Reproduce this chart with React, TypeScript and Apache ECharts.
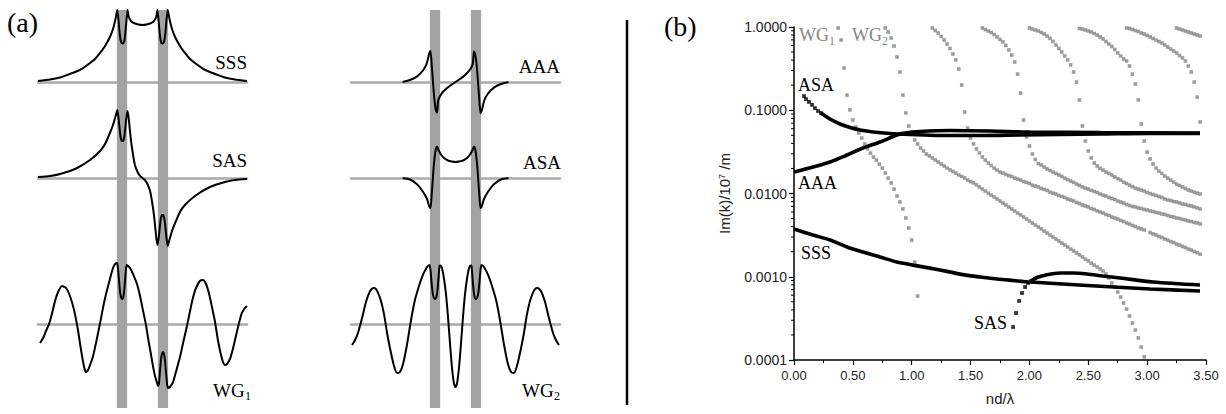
import React, { useEffect, useRef } from 'react';
import * as echarts from 'echarts';

type Pt = [number, number];

const SERIF = '"Liberation Serif", "Times New Roman", Times, serif';
const SANS = '"Liberation Sans", Arial, Helvetica, sans-serif';
const GREY_DOT = '#858585';
const GREY_LAYER = '#a3a3a3';
const GREY_AXIS = '#aaaaaa';

// ---------- (b) Im(k) against nd/λ ----------
const ndRange: Pt = [0, 3.5];
const imkRange: Pt = [0.0001, 1];
const imkMinorTicks = [
  0.0002, 0.0003, 0.0004, 0.0005, 0.0006, 0.0007, 0.0008, 0.0009,
  0.002, 0.003, 0.004, 0.005, 0.006, 0.007, 0.008, 0.009,
  0.02, 0.03, 0.04, 0.05, 0.06, 0.07, 0.08, 0.09,
  0.2, 0.3, 0.4, 0.5, 0.6, 0.7, 0.8, 0.9,
];

// waveguide (WG) branches, grey dots
const wgBranch1: Pt[] = [
  [0.375, 0.973], [0.4, 0.698], [0.425, 0.322], [0.45, 0.152], [0.475, 0.101], [0.5, 0.0764], [0.525, 0.0629],
  [0.55, 0.0533], [0.575, 0.0464], [0.6, 0.0393], [0.625, 0.0343], [0.65, 0.0306], [0.675, 0.0274], [0.7, 0.0252],
  [0.725, 0.0226], [0.75, 0.0202], [0.775, 0.0176], [0.8, 0.0153], [0.825, 0.0134], [0.85, 0.0113], [0.875, 0.00933],
  [0.9, 0.00791], [0.925, 0.00652], [0.95, 0.00508], [0.975, 0.00385], [1.0, 0.00276], [1.025, 0.0015], [1.05, 0.000587],
];
const wgBranch2: Pt[] = [
  [0.775, 0.973], [0.8, 0.871], [0.825, 0.738], [0.85, 0.591], [0.875, 0.436], [0.9, 0.288], [0.925, 0.152],
  [0.95, 0.0927], [0.975, 0.0647], [1.0, 0.0518], [1.025, 0.0439], [1.05, 0.0393], [1.075, 0.0352], [1.1, 0.0324],
  [1.125, 0.0298], [1.15, 0.0282], [1.175, 0.0267], [1.2, 0.0253], [1.225, 0.0239], [1.25, 0.0226], [1.275, 0.0214],
  [1.3, 0.0202], [1.325, 0.0192], [1.35, 0.0184], [1.375, 0.0176], [1.4, 0.0167], [1.425, 0.016], [1.45, 0.0154],
  [1.475, 0.0145], [1.5, 0.0139], [1.525, 0.0134], [1.55, 0.0127], [1.575, 0.012], [1.6, 0.0113], [1.625, 0.0107],
  [1.65, 0.0101], [1.675, 0.00959], [1.7, 0.00908], [1.725, 0.00859], [1.75, 0.00813], [1.775, 0.00769], [1.8, 0.00728],
  [1.825, 0.00689], [1.85, 0.00652], [1.875, 0.00616], [1.9, 0.00583], [1.925, 0.00552], [1.95, 0.00522], [1.975, 0.00494],
  [2.0, 0.00467], [2.025, 0.00442], [2.05, 0.00418], [2.075, 0.00396], [2.1, 0.00375], [2.125, 0.00354], [2.15, 0.00335],
  [2.175, 0.00317], [2.2, 0.003], [2.225, 0.00284], [2.25, 0.00269], [2.275, 0.00254], [2.3, 0.00241], [2.325, 0.00228],
  [2.35, 0.00215], [2.375, 0.00204], [2.4, 0.00193], [2.425, 0.00183], [2.45, 0.00173], [2.475, 0.00163], [2.5, 0.00155],
  [2.525, 0.00146], [2.55, 0.00138], [2.575, 0.00131], [2.6, 0.00124], [2.625, 0.00117], [2.65, 0.00108], [2.675, 0.000966],
  [2.7, 0.000841], [2.725, 0.000753], [2.75, 0.000656], [2.775, 0.000571], [2.8, 0.000484], [2.825, 0.00041], [2.85, 0.000338],
  [2.875, 0.000278], [2.9, 0.000229], [2.925, 0.000184], [2.95, 0.000143], [2.975, 0.000109],
];
const wgBranch3: Pt[] = [
  [1.175, 0.973], [1.2, 0.908], [1.225, 0.847], [1.25, 0.769], [1.275, 0.698], [1.3, 0.625], [1.325, 0.552],
  [1.35, 0.474], [1.375, 0.402], [1.4, 0.313], [1.425, 0.201], [1.45, 0.0953], [1.475, 0.0612], [1.5, 0.0464],
  [1.525, 0.0394], [1.55, 0.0343], [1.575, 0.0307], [1.6, 0.0275], [1.625, 0.0252], [1.65, 0.0232], [1.675, 0.0217],
  [1.7, 0.0202], [1.725, 0.0191], [1.75, 0.0181], [1.775, 0.0176], [1.8, 0.0169], [1.825, 0.0164], [1.85, 0.016],
  [1.875, 0.0153], [1.9, 0.0149], [1.925, 0.0145], [1.95, 0.0139], [1.975, 0.0136], [2.0, 0.0132], [2.025, 0.0126],
  [2.05, 0.0123], [2.075, 0.012], [2.1, 0.0115], [2.125, 0.0112], [2.15, 0.0109], [2.175, 0.0104], [2.2, 0.0101],
  [2.225, 0.00986], [2.25, 0.00946], [2.275, 0.0092], [2.3, 0.00895], [2.325, 0.00859], [2.35, 0.00836], [2.375, 0.00813],
  [2.4, 0.0078], [2.425, 0.00759], [2.45, 0.00728], [2.475, 0.00708], [2.5, 0.00689], [2.525, 0.00661], [2.55, 0.00643],
  [2.575, 0.00617], [2.6, 0.006], [2.625, 0.00583], [2.65, 0.0056], [2.675, 0.00544], [2.7, 0.00522], [2.725, 0.00508],
  [2.75, 0.00494], [2.775, 0.00474], [2.8, 0.00461], [2.825, 0.00443], [2.85, 0.00431], [2.875, 0.00413], [2.9, 0.00402],
  [2.925, 0.00385], [2.95, 0.00375], [2.975, 0.00365], [3.025, 0.0034], [3.05, 0.00327], [3.075, 0.00318], [3.1, 0.00305],
  [3.125, 0.00296], [3.15, 0.00284], [3.175, 0.00276], [3.2, 0.00265], [3.225, 0.00258], [3.25, 0.00247], [3.275, 0.0024],
  [3.3, 0.00231], [3.325, 0.00224], [3.35, 0.00215], [3.375, 0.00209], [3.4, 0.00201], [3.425, 0.00195], [3.45, 0.00187],
];
const wgBranch4: Pt[] = [
  [1.6, 0.973], [1.625, 0.933], [1.65, 0.895], [1.675, 0.859], [1.7, 0.813], [1.725, 0.759], [1.75, 0.708],
  [1.775, 0.661], [1.8, 0.6], [1.825, 0.53], [1.85, 0.461], [1.875, 0.38], [1.9, 0.272], [1.925, 0.161],
  [1.95, 0.0764], [1.975, 0.0477], [2.0, 0.0372], [2.025, 0.0298], [2.05, 0.0256], [2.075, 0.0229], [2.1, 0.022],
  [2.125, 0.0208], [2.15, 0.0197], [2.175, 0.0189], [2.2, 0.0181], [2.225, 0.0174], [2.25, 0.0167], [2.275, 0.016],
  [2.3, 0.0153], [2.325, 0.0147], [2.35, 0.0141], [2.375, 0.0136], [2.4, 0.013], [2.425, 0.0125], [2.45, 0.012],
  [2.475, 0.0116], [2.5, 0.0113], [2.525, 0.0109], [2.55, 0.0106], [2.575, 0.0103], [2.6, 0.00986], [2.625, 0.00959],
  [2.65, 0.00933], [2.675, 0.00895], [2.7, 0.00871], [2.725, 0.00847], [2.75, 0.00813], [2.775, 0.00791], [2.8, 0.00769],
  [2.825, 0.00738], [2.85, 0.00718], [2.875, 0.00698], [2.9, 0.00689], [2.925, 0.0067], [2.95, 0.00661], [2.975, 0.00643],
  [3.0, 0.00634], [3.025, 0.00617], [3.05, 0.00608], [3.075, 0.00592], [3.1, 0.00583], [3.125, 0.00568], [3.15, 0.0056],
  [3.175, 0.00544], [3.2, 0.0053], [3.225, 0.00522], [3.25, 0.00508], [3.275, 0.00501], [3.3, 0.00488], [3.325, 0.00481],
  [3.35, 0.00468], [3.375, 0.00461], [3.4, 0.00449], [3.425, 0.00443], [3.45, 0.00431],
];
const wgBranch5: Pt[] = [
  [2.0, 0.973], [2.025, 0.946], [2.05, 0.92], [2.075, 0.895], [2.1, 0.859], [2.125, 0.824], [2.15, 0.78],
  [2.175, 0.728], [2.2, 0.67], [2.225, 0.608], [2.25, 0.552], [2.275, 0.501], [2.3, 0.449], [2.325, 0.402],
  [2.35, 0.35], [2.375, 0.288], [2.4, 0.218], [2.425, 0.133], [2.45, 0.0647], [2.475, 0.0427], [2.5, 0.0324],
  [2.525, 0.0267], [2.55, 0.0232], [2.575, 0.0214], [2.6, 0.02], [2.625, 0.0191], [2.65, 0.0181], [2.675, 0.0174],
  [2.7, 0.0167], [2.725, 0.0158], [2.75, 0.0151], [2.775, 0.0145], [2.8, 0.0137], [2.825, 0.0132], [2.85, 0.0126],
  [2.875, 0.0121], [2.9, 0.0116], [2.925, 0.0113], [2.95, 0.011], [2.975, 0.0107], [3.0, 0.0103], [3.025, 0.01],
  [3.05, 0.00973], [3.075, 0.00946], [3.1, 0.0092], [3.125, 0.00895], [3.15, 0.00859], [3.175, 0.00836], [3.2, 0.00824],
  [3.225, 0.00802], [3.25, 0.00791], [3.275, 0.00769], [3.3, 0.00748], [3.325, 0.00738], [3.35, 0.00718], [3.375, 0.00708],
  [3.4, 0.00689], [3.425, 0.0067], [3.45, 0.00652],
];
const wgBranch6: Pt[] = [
  [2.425, 0.959], [2.45, 0.946], [2.475, 0.92], [2.5, 0.895], [2.525, 0.871], [2.55, 0.836], [2.575, 0.801],
  [2.6, 0.759], [2.625, 0.718], [2.65, 0.67], [2.675, 0.625], [2.7, 0.583], [2.725, 0.537], [2.75, 0.488],
  [2.775, 0.449], [2.8, 0.413], [2.825, 0.391], [2.85, 0.34], [2.875, 0.272], [2.9, 0.207], [2.925, 0.133],
  [2.95, 0.0684], [2.975, 0.0427], [3.0, 0.0315], [3.025, 0.026], [3.05, 0.0226], [3.075, 0.0202], [3.1, 0.0186],
  [3.125, 0.0174], [3.15, 0.0162], [3.175, 0.0153], [3.2, 0.0145], [3.225, 0.0137], [3.25, 0.013], [3.275, 0.0125],
  [3.3, 0.012], [3.325, 0.0115], [3.35, 0.011], [3.375, 0.0107], [3.4, 0.0104], [3.425, 0.0101], [3.45, 0.00986],
];
const wgBranch7: Pt[] = [
  [2.825, 0.973], [2.85, 0.959], [2.875, 0.933], [2.9, 0.908], [2.925, 0.883], [2.95, 0.847], [2.975, 0.824],
  [3.0, 0.791], [3.025, 0.759], [3.05, 0.728], [3.075, 0.698], [3.1, 0.67], [3.125, 0.643], [3.15, 0.608],
  [3.175, 0.575], [3.2, 0.544], [3.225, 0.515], [3.25, 0.488], [3.275, 0.455], [3.3, 0.425], [3.325, 0.391],
  [3.35, 0.34], [3.375, 0.288], [3.4, 0.218], [3.425, 0.144], [3.45, 0.0723],
];
const wgBranch8: Pt[] = [
  [3.25, 0.973], [3.275, 0.946], [3.3, 0.92], [3.325, 0.895], [3.35, 0.871], [3.375, 0.847], [3.4, 0.824],
  [3.425, 0.801], [3.45, 0.78],
];
const wgBranches = [wgBranch1, wgBranch2, wgBranch3, wgBranch4, wgBranch5, wgBranch6, wgBranch7, wgBranch8];

// coupled modes, black
const asaStart: Pt[] = [
  [0.085, 0.148], [0.102, 0.136], [0.127, 0.126], [0.153, 0.116], [0.178, 0.106], [0.204, 0.098], [0.229, 0.0927],
];
const asaCurve: Pt[] = [
  [0.229, 0.0927], [0.306, 0.0785], [0.391, 0.0684], [0.476, 0.062], [0.561, 0.0579], [0.671, 0.0548], [0.816, 0.0526],
  [0.986, 0.0512], [1.24, 0.0498], [1.58, 0.0498], [1.92, 0.0505], [2.26, 0.0512], [2.6, 0.0518], [3.025, 0.0526], [3.449, 0.0526],
];
const aaaCurve: Pt[] = [
  [0, 0.0181], [0.161, 0.0208], [0.306, 0.0239], [0.45, 0.029], [0.586, 0.0352], [0.731, 0.0416], [0.875, 0.0505],
  [0.943, 0.0533], [1.071, 0.0556], [1.325, 0.0571], [1.665, 0.0563], [2.005, 0.0548], [2.6, 0.054], [3.449, 0.0533],
];
const sssCurve: Pt[] = [
  [0, 0.00374], [0.161, 0.00317], [0.306, 0.00276], [0.45, 0.00228], [0.586, 0.00198], [0.731, 0.00173], [0.875, 0.0015],
  [1.011, 0.00138], [1.155, 0.00127], [1.3, 0.00116], [1.436, 0.00106], [1.58, 0.000993], [1.725, 0.00094], [1.861, 0.000902],
  [2.005, 0.000865], [2.489, 0.000785], [3.025, 0.000713], [3.449, 0.000674],
];
const sasStart: Pt[] = [
  [1.861, 0.000249], [1.886, 0.000367], [1.912, 0.000512], [1.937, 0.000638], [1.963, 0.000753], [1.988, 0.000841], [2.014, 0.000889],
];
const sasCurve: Pt[] = [
  [2.014, 0.000889], [2.065, 0.000979], [2.15, 0.00106], [2.26, 0.00111], [2.37, 0.00111], [2.489, 0.00108],
  [2.625, 0.00102], [2.77, 0.000966], [3.05, 0.000865], [3.449, 0.000796],
];

// ---------- (a) field profiles across the two layers ----------
// position in units of half the layer spacing, amplitude normalised
const positionRange: Pt = [-5.1, 5.1];
const layerBands: Pt[] = [[-1.25, -0.75], [0.75, 1.25]];

const profileSSS: Pt[] = [
  [-5.1, 0.014], [-4.51, 0.035], [-4.02, 0.063], [-3.68, 0.097], [-3.29, 0.139], [-2.9, 0.194], [-2.56, 0.264],
  [-2.32, 0.319], [-2.07, 0.403], [-1.83, 0.5], [-1.59, 0.625], [-1.44, 0.736], [-1.34, 0.847], [-1.27, 0.944],
  [-1.23, 1.0], [-1.17, 0.861], [-1.12, 0.694], [-1.07, 0.583], [-1.02, 0.542], [-0.95, 0.535], [-0.89, 0.569],
  [-0.84, 0.681], [-0.79, 0.833], [-0.73, 1.0], [-0.68, 0.917], [-0.61, 0.868], [-0.51, 0.833], [-0.37, 0.813],
  [-0.2, 0.799], [0, 0.792], [0.2, 0.799], [0.37, 0.813], [0.51, 0.833], [0.61, 0.868], [0.68, 0.917], [0.73, 1.0],
  [0.79, 0.833], [0.84, 0.681], [0.89, 0.569], [0.95, 0.535], [1.02, 0.542], [1.07, 0.583], [1.12, 0.694], [1.17, 0.861],
  [1.23, 1.0], [1.27, 0.944], [1.34, 0.847], [1.44, 0.736], [1.59, 0.625], [1.83, 0.5], [2.07, 0.403], [2.32, 0.319],
  [2.56, 0.264], [2.9, 0.194], [3.29, 0.139], [3.68, 0.097], [4.02, 0.063], [4.51, 0.035], [5.1, 0.014],
];
const profileSAS: Pt[] = [
  [-5.1, 0.014], [-4.51, 0.028], [-4.02, 0.056], [-3.29, 0.125], [-2.56, 0.25], [-2.07, 0.375], [-1.83, 0.472],
  [-1.59, 0.625], [-1.44, 0.736], [-1.34, 0.833], [-1.27, 0.903], [-1.23, 0.944], [-1.17, 0.833], [-1.12, 0.694],
  [-1.07, 0.569], [-1.01, 0.514], [-0.95, 0.514], [-0.89, 0.569], [-0.84, 0.694], [-0.79, 0.833], [-0.73, 0.931],
  [-0.68, 0.847], [-0.63, 0.708], [-0.56, 0.514], [-0.46, 0.319], [-0.37, 0.181], [-0.24, 0.083], [-0.12, 0.028],
  [0, 0], [0.12, -0.028], [0.24, -0.083], [0.37, -0.181], [0.46, -0.319], [0.56, -0.514], [0.63, -0.708], [0.68, -0.847],
  [0.73, -0.931], [0.79, -0.833], [0.84, -0.694], [0.89, -0.569], [0.95, -0.514], [1.01, -0.514], [1.07, -0.569],
  [1.12, -0.694], [1.17, -0.833], [1.23, -0.944], [1.27, -0.903], [1.34, -0.833], [1.44, -0.736], [1.59, -0.625],
  [1.83, -0.472], [2.07, -0.375], [2.56, -0.25], [3.29, -0.125], [4.02, -0.056], [4.51, -0.028], [5.1, -0.014],
];
const profileWG1: Pt[] = [
  [-5.0, -0.264], [-4.85, -0.194], [-4.71, -0.097], [-4.56, 0], [-4.41, 0.153], [-4.27, 0.319], [-4.12, 0.444],
  [-3.93, 0.528], [-3.73, 0.5], [-3.54, 0.389], [-3.34, 0.194], [-3.15, -0.083], [-3.0, -0.361], [-2.85, -0.597],
  [-2.76, -0.667], [-2.66, -0.639], [-2.56, -0.569], [-2.41, -0.444], [-2.27, -0.264], [-2.07, 0.014], [-1.88, 0.292],
  [-1.73, 0.472], [-1.59, 0.625], [-1.44, 0.778], [-1.34, 0.833], [-1.24, 0.847], [-1.2, 0.778], [-1.15, 0.625],
  [-1.1, 0.458], [-1.05, 0.375], [-1.0, 0.347], [-0.95, 0.361], [-0.9, 0.444], [-0.85, 0.611], [-0.8, 0.778],
  [-0.76, 0.819], [-0.71, 0.806], [-0.61, 0.778], [-0.46, 0.694], [-0.27, 0.556], [-0.12, 0.389], [0.02, 0.194],
  [0.17, -0.014], [0.27, -0.194], [0.41, -0.417], [0.51, -0.583], [0.61, -0.722], [0.71, -0.819], [0.76, -0.861],
  [0.8, -0.833], [0.85, -0.667], [0.9, -0.5], [0.95, -0.417], [1.0, -0.389], [1.05, -0.417], [1.1, -0.514],
  [1.15, -0.681], [1.2, -0.833], [1.24, -0.889], [1.34, -0.875], [1.49, -0.806], [1.63, -0.667], [1.83, -0.458],
  [1.98, -0.264], [2.17, -0.028], [2.32, 0.181], [2.46, 0.361], [2.61, 0.5], [2.8, 0.597], [2.95, 0.611], [3.1, 0.556],
  [3.24, 0.431], [3.39, 0.236], [3.54, 0.028], [3.68, -0.222], [3.83, -0.431], [3.93, -0.528], [4.02, -0.569],
  [4.12, -0.556], [4.27, -0.486], [4.41, -0.347], [4.56, -0.167], [4.71, 0.014], [4.85, 0.153], [5.0, 0.222], [5.1, 0.25],
];
const profileAAA: Pt[] = [
  [-2.58, 0], [-2.22, 0.028], [-1.89, 0.074], [-1.57, 0.167], [-1.4, 0.26], [-1.28, 0.399], [-1.22, 0.431],
  [-1.17, 0.278], [-1.12, 0.083], [-1.07, -0.111], [-1.01, -0.292], [-0.96, -0.389], [-0.9, -0.424], [-0.84, -0.25],
  [-0.67, -0.157], [-0.43, -0.088], [-0.22, -0.042], [0, 0], [0.22, 0.042], [0.43, 0.088], [0.67, 0.157], [0.84, 0.25],
  [0.9, 0.424], [0.96, 0.389], [1.01, 0.292], [1.07, 0.111], [1.12, -0.083], [1.17, -0.278], [1.22, -0.431],
  [1.28, -0.399], [1.4, -0.26], [1.57, -0.167], [1.89, -0.074], [2.22, -0.028], [2.58, 0],
];
const profileASA: Pt[] = [
  [-2.58, 0], [-2.22, -0.021], [-1.89, -0.083], [-1.68, -0.153], [-1.49, -0.236], [-1.37, -0.306], [-1.28, -0.399],
  [-1.22, -0.417], [-1.17, -0.264], [-1.12, -0.069], [-1.07, 0.139], [-1.01, 0.306], [-0.96, 0.403], [-0.9, 0.438],
  [-0.83, 0.389], [-0.71, 0.326], [-0.56, 0.278], [-0.37, 0.243], [-0.17, 0.229], [0, 0.222], [0.17, 0.229],
  [0.37, 0.243], [0.56, 0.278], [0.71, 0.326], [0.83, 0.389], [0.9, 0.438], [0.96, 0.403], [1.01, 0.306], [1.07, 0.139],
  [1.12, -0.069], [1.17, -0.264], [1.22, -0.417], [1.28, -0.399], [1.37, -0.306], [1.49, -0.236], [1.68, -0.153],
  [1.89, -0.083], [2.22, -0.021], [2.58, 0],
];
const profileWG2: Pt[] = [
  [-5.05, -0.292], [-4.9, -0.222], [-4.76, -0.125], [-4.56, 0.083], [-4.37, 0.306], [-4.17, 0.458], [-4.02, 0.5],
  [-3.88, 0.486], [-3.68, 0.361], [-3.49, 0.139], [-3.34, -0.125], [-3.2, -0.333], [-3.0, -0.583], [-2.85, -0.681],
  [-2.71, -0.667], [-2.56, -0.556], [-2.37, -0.292], [-2.17, 0.056], [-1.98, 0.333], [-1.78, 0.528], [-1.59, 0.681],
  [-1.39, 0.792], [-1.27, 0.819], [-1.22, 0.75], [-1.17, 0.583], [-1.12, 0.444], [-1.07, 0.375], [-1.0, 0.347],
  [-0.93, 0.375], [-0.88, 0.472], [-0.83, 0.639], [-0.78, 0.806], [-0.73, 0.813], [-0.66, 0.778], [-0.56, 0.625],
  [-0.46, 0.403], [-0.37, 0.111], [-0.27, -0.264], [-0.17, -0.611], [-0.07, -0.833], [0, -0.875], [0.07, -0.833],
  [0.17, -0.611], [0.27, -0.264], [0.37, 0.111], [0.46, 0.403], [0.56, 0.625], [0.66, 0.778], [0.73, 0.813],
  [0.78, 0.806], [0.83, 0.639], [0.88, 0.472], [0.93, 0.375], [1.0, 0.347], [1.07, 0.375], [1.12, 0.444], [1.17, 0.583],
  [1.22, 0.75], [1.27, 0.819], [1.39, 0.792], [1.59, 0.681], [1.78, 0.528], [1.98, 0.333], [2.17, 0.056], [2.37, -0.292],
  [2.56, -0.556], [2.71, -0.667], [2.85, -0.681], [3.0, -0.583], [3.2, -0.333], [3.34, -0.125], [3.49, 0.139],
  [3.68, 0.361], [3.88, 0.486], [4.02, 0.5], [4.17, 0.458], [4.37, 0.306], [4.56, 0.083], [4.76, -0.125], [4.9, -0.222],
  [5.05, -0.292],
];

// profile panels: grid index 1..6
const profiles: Pt[][] = [profileSSS, profileSAS, profileWG1, profileAAA, profileASA, profileWG2];

const profileGrids = [
  { left: 38, top: 10 }, { left: 38, top: 106 }, { left: 38, top: 252 },
  { left: 351, top: 10 }, { left: 351, top: 106 }, { left: 351, top: 252 },
];

function serifText(text: string, x: number, y: number, size: number, fill: string, align = 'left') {
  return {
    type: 'text', x, y, silent: true,
    style: { text, fill, fontSize: size, fontFamily: SERIF, align, verticalAlign: 'middle' },
  };
}

export default function App() {
  const ref = useRef<HTMLDivElement>(null);

  useEffect(() => {
    if (!ref.current) return;
    const chart = echarts.init(ref.current, undefined, { renderer: 'svg' });

    const grids: any[] = [{ left: 794, top: 27, width: 412, height: 333 }];
    const xAxes: any[] = [];
    const yAxes: any[] = [];
    const series: any[] = [];

    xAxes.push({
      type: 'value', gridIndex: 0, min: ndRange[0], max: ndRange[1], interval: 0.5,
      axisLine: { show: true, onZero: false, lineStyle: { color: '#000', width: 1.5 } },
      axisTick: { show: true, length: 5, lineStyle: { color: '#000', width: 1.2 } },
      minorTick: { show: true, splitNumber: 2, length: 3, lineStyle: { color: '#000', width: 1 } },
      splitLine: { show: false },
      axisLabel: { fontSize: 13, fontFamily: SANS, color: '#222', margin: 9, formatter: (v: number) => v.toFixed(2) },
      name: 'nd/λ', nameLocation: 'middle', nameGap: 31,
      nameTextStyle: { fontSize: 15, fontFamily: SANS, color: '#222' },
    });
    yAxes.push({
      type: 'log', logBase: 10, gridIndex: 0, min: imkRange[0], max: imkRange[1], splitNumber: 4,
      axisLine: { show: true, onZero: false, lineStyle: { color: '#000', width: 1.5 } },
      axisTick: { show: true, length: 5, lineStyle: { color: '#000', width: 1.2 } },
      splitLine: { show: false },
      axisLabel: { fontSize: 14, fontFamily: SANS, color: '#222', margin: 7, formatter: (v: number) => v.toFixed(4) },
      name: '{t|Im(k)/10}{s|7}{t| /m}', nameLocation: 'middle', nameRotate: 90, nameGap: 62,
      nameTextStyle: {
        rich: {
          t: { fontSize: 15, fontFamily: SANS, color: '#222' },
          s: { fontSize: 9, fontFamily: SANS, color: '#222', verticalAlign: 'top' },
        },
      },
    });

    wgBranches.forEach((b) => {
      series.push({
        type: 'scatter', xAxisIndex: 0, yAxisIndex: 0, data: b, symbol: 'rect', symbolSize: 3.6,
        itemStyle: { color: GREY_DOT }, silent: true, z: 3,
      });
    });
    [asaStart, sasStart].forEach((d) => {
      series.push({
        type: 'scatter', xAxisIndex: 0, yAxisIndex: 0, data: d, symbol: 'rect', symbolSize: 3.8,
        itemStyle: { color: '#000' }, silent: true, z: 5,
      });
    });
    [asaCurve, aaaCurve, sssCurve, sasCurve].forEach((d) => {
      series.push({
        type: 'line', xAxisIndex: 0, yAxisIndex: 0, data: d, showSymbol: false, symbol: 'none', smooth: 0.3,
        lineStyle: { color: '#000', width: 3.6 }, silent: true, z: 5,
      });
    });
    series.push({
      type: 'custom', xAxisIndex: 0, yAxisIndex: 0, clip: false, silent: true, z: 6,
      data: imkMinorTicks.map((v) => [ndRange[0], v]),
      renderItem: (_p: any, api: any) => {
        const pt = api.coord([api.value(0), api.value(1)]);
        return {
          type: 'line',
          shape: { x1: pt[0] - 3, y1: pt[1], x2: pt[0], y2: pt[1] },
          style: { stroke: '#000', lineWidth: 1 },
        };
      },
    });

    // (a) profile grids
    profiles.forEach((data, i) => {
      const gi = i + 1;
      grids.push({ left: profileGrids[i].left, top: profileGrids[i].top, width: 209, height: 144 });
      xAxes.push({
        type: 'value', gridIndex: gi, min: positionRange[0], max: positionRange[1],
        axisLine: { show: true, onZero: true, lineStyle: { color: GREY_AXIS, width: 2.5 } },
        axisTick: { show: false }, axisLabel: { show: false }, splitLine: { show: false },
      });
      yAxes.push({ type: 'value', gridIndex: gi, min: -1, max: 1, show: false });
      series.push({
        type: 'line', xAxisIndex: gi, yAxisIndex: gi, data, showSymbol: false, symbol: 'none',
        smooth: 0.2, lineStyle: { color: '#000', width: 2 }, silent: true, z: 5,
      });
    });

    // (a) layer bands behind the profiles
    [38, 351].forEach((left, j) => {
      const gi = 7 + j;
      grids.push({ left, top: 10, width: 209, height: 398 });
      xAxes.push({ type: 'value', gridIndex: gi, min: positionRange[0], max: positionRange[1], show: false });
      yAxes.push({ type: 'value', gridIndex: gi, min: 0, max: 1, show: false });
      series.push({
        type: 'custom', xAxisIndex: gi, yAxisIndex: gi, silent: true, z: 1,
        data: layerBands,
        renderItem: (_p: any, api: any) => {
          const a = api.coord([api.value(0), 1]);
          const b = api.coord([api.value(1), 0]);
          return {
            type: 'rect',
            shape: { x: a[0], y: a[1], width: b[0] - a[0], height: b[1] - a[1] },
            style: { fill: GREY_LAYER },
          };
        },
      });
    });

    const graphic: any[] = [
      serifText('(a)', 7, 22, 28, '#000'),
      serifText('(b)', 664, 26, 28, '#000'),
      { type: 'line', silent: true, shape: { x1: 627, y1: 20, x2: 627, y2: 405 }, style: { stroke: '#000', lineWidth: 2.5 } },
      // (a) labels
      serifText('SSS', 247, 62, 19, '#000', 'right'),
      serifText('SAS', 247, 160, 19, '#000', 'right'),
      serifText('WG', 213, 390, 19, '#000'),
      serifText('1', 245, 396, 12, '#000'),
      serifText('AAA', 560, 66, 19, '#000', 'right'),
      serifText('ASA', 561, 162, 19, '#000', 'right'),
      serifText('WG', 522, 390, 19, '#000'),
      serifText('2', 554, 396, 12, '#000'),
      // (b) labels
      serifText('WG', 799, 35, 18, GREY_DOT),
      serifText('1', 829, 41, 12, GREY_DOT),
      serifText('WG', 852, 35, 18, GREY_DOT),
      serifText('2', 882, 41, 12, GREY_DOT),
      serifText('ASA', 798, 85, 18, '#000'),
      serifText('AAA', 798, 183, 18, '#000'),
      serifText('SSS', 801, 253, 18, '#000'),
      serifText('SAS', 974, 323, 18, '#000'),
    ];

    chart.setOption({
      animation: false,
      backgroundColor: '#fff',
      grid: grids,
      xAxis: xAxes,
      yAxis: yAxes,
      series,
      graphic,
    });

    return () => chart.dispose();
  }, []);

  return <div ref={ref} style={{ position: 'absolute', left: 0, top: 0, width: 1226, height: 414 }} />;
}
